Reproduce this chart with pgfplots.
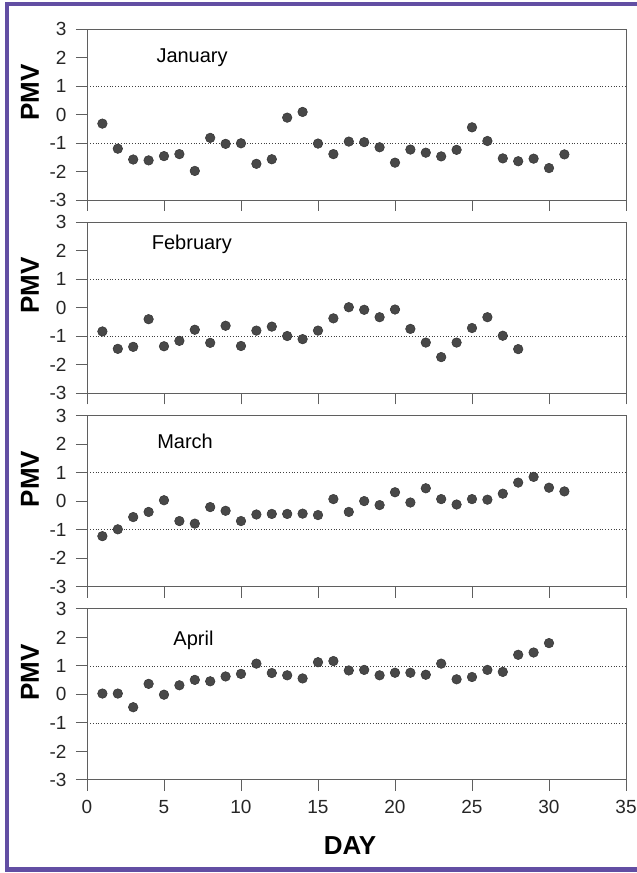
\documentclass[border=0pt]{standalone}
\usepackage{fontspec}
\setmainfont{Liberation Sans}
\usepackage{pgfplots}
\pgfplotsset{compat=1.18}
\definecolor{frame}{RGB}{98,78,163}
\definecolor{dot}{RGB}{72,72,72}
\definecolor{axgray}{RGB}{95,95,95}
\pgfplotsset{
 panel/.style={
  scale only axis, width=539pt, height=171pt,
  xmin=0,xmax=35,ymin=-3,ymax=3,
  xtick={0,5,...,35}, ytick={-3,-2,-1,0,1,2,3},
  yticklabels={-3,-2,-1,0,1,2,3},
  xtick pos=left, ytick pos=left,
  tick align=outside, major tick length=11pt,
  tick style={axgray, line width=0.9pt},
  axis line style={axgray, line width=0.9pt},
  tick label style={font=\fontsize{19}{19}\selectfont, text=black!85},
  yticklabel style={xshift=-6pt},
  xticklabel style={yshift=-6pt},
  xticklabels={},
  clip=false,
  anchor=north west,
 },
 pts/.style={only marks, mark=*, mark size=4.8pt, mark options={fill=dot, draw=black!80, line width=0.5pt}},
 refl/.style={dotted, black!75, line width=0.8pt},
}
\newcommand{\monthfont}{\fontsize{20}{20}\selectfont}
\newcommand{\labfont}{\bfseries\fontsize{26}{26}\selectfont}
\begin{document}
\begin{tikzpicture}[x=1pt,y=1pt]
\useasboundingbox (0,0) rectangle (637,-873);
\fill[frame] (4.5,-1.8) rectangle (637,-6.3);
\fill[frame] (4.5,-1.8) rectangle (9,-871.8);
\fill[frame] (4.5,-866.8) rectangle (637,-871.8);

% January
\begin{axis}[panel, at={(87pt,-29pt)}]
\addplot[refl] coordinates {(0.2,1)(35,1)};
\addplot[refl] coordinates {(0.2,-1)(35,-1)};
\addplot[pts] coordinates {
(1,-0.32)(2,-1.20)(3,-1.58)(4,-1.61)(5,-1.46)(6,-1.39)(7,-1.98)(8,-0.82)
(9,-1.03)(10,-1.01)(11,-1.73)(12,-1.57)(13,-0.11)(14,0.09)(15,-1.02)(16,-1.39)
(17,-0.95)(18,-0.97)(19,-1.15)(20,-1.69)(21,-1.23)(22,-1.34)(23,-1.47)(24,-1.24)
(25,-0.45)(26,-0.93)(27,-1.54)(28,-1.64)(29,-1.55)(30,-1.88)(31,-1.40)};
\node[anchor=west, inner xsep=0pt, font=\monthfont] at (axis cs:4.5,1.98) {January};
\node[rotate=90, font=\labfont] at (axis description cs:-0.106,0.63) {PMV};
\end{axis}

% February
\begin{axis}[panel, at={(87pt,-222.3pt)}]
\addplot[refl] coordinates {(0.2,1)(35,1)};
\addplot[refl] coordinates {(0.2,-1)(35,-1)};
\addplot[pts] coordinates {
(1,-0.83)(2,-1.44)(3,-1.37)(4,-0.40)(5,-1.35)(6,-1.16)(7,-0.77)(8,-1.23)
(9,-0.63)(10,-1.34)(11,-0.80)(12,-0.66)(13,-0.99)(14,-1.10)(15,-0.80)(16,-0.37)
(17,0.02)(18,-0.07)(19,-0.33)(20,-0.06)(21,-0.74)(22,-1.22)(23,-1.73)(24,-1.22)
(25,-0.71)(26,-0.33)(27,-0.98)(28,-1.45)};
\node[anchor=west, inner xsep=0pt, font=\monthfont] at (axis cs:4.2,2.22) {February};
\node[rotate=90, font=\labfont] at (axis description cs:-0.106,0.63) {PMV};
\end{axis}

% March
\begin{axis}[panel, at={(87pt,-415.6pt)}]
\addplot[refl] coordinates {(0.2,1)(35,1)};
\addplot[refl] coordinates {(0.2,-1)(35,-1)};
\addplot[pts] coordinates {
(1,-1.23)(2,-0.99)(3,-0.56)(4,-0.38)(5,0.03)(6,-0.70)(7,-0.79)(8,-0.21)
(9,-0.34)(10,-0.70)(11,-0.47)(12,-0.45)(13,-0.45)(14,-0.44)(15,-0.49)(16,0.07)
(17,-0.38)(18,0.00)(19,-0.14)(20,0.31)(21,-0.05)(22,0.45)(23,0.07)(24,-0.12)
(25,0.07)(26,0.05)(27,0.26)(28,0.65)(29,0.85)(30,0.47)(31,0.34)};
\node[anchor=west, inner xsep=0pt, font=\monthfont] at (axis cs:4.55,2.09) {March};
\node[rotate=90, font=\labfont] at (axis description cs:-0.106,0.63) {PMV};
\end{axis}

% April
\begin{axis}[panel, at={(87pt,-608.9pt)}, xticklabels={0,5,10,15,20,25,30,35}]
\addplot[refl] coordinates {(0.2,1)(35,1)};
\addplot[refl] coordinates {(0.2,-1)(35,-1)};
\addplot[pts] coordinates {
(1,0.03)(2,0.03)(3,-0.45)(4,0.37)(5,-0.01)(6,0.32)(7,0.51)(8,0.46)
(9,0.63)(10,0.72)(11,1.08)(12,0.75)(13,0.67)(14,0.56)(15,1.13)(16,1.17)
(17,0.84)(18,0.86)(19,0.67)(20,0.76)(21,0.76)(22,0.69)(23,1.08)(24,0.53)
(25,0.61)(26,0.86)(27,0.79)(28,1.39)(29,1.47)(30,1.80)};
\node[anchor=west, inner xsep=0pt, font=\monthfont] at (axis cs:5.6,1.91) {April};
\node[rotate=90, font=\labfont] at (axis description cs:-0.106,0.63) {PMV};
\node[font=\labfont] at (axis description cs:0.488,-0.386) {DAY};
\end{axis}
\end{tikzpicture}
\end{document}
